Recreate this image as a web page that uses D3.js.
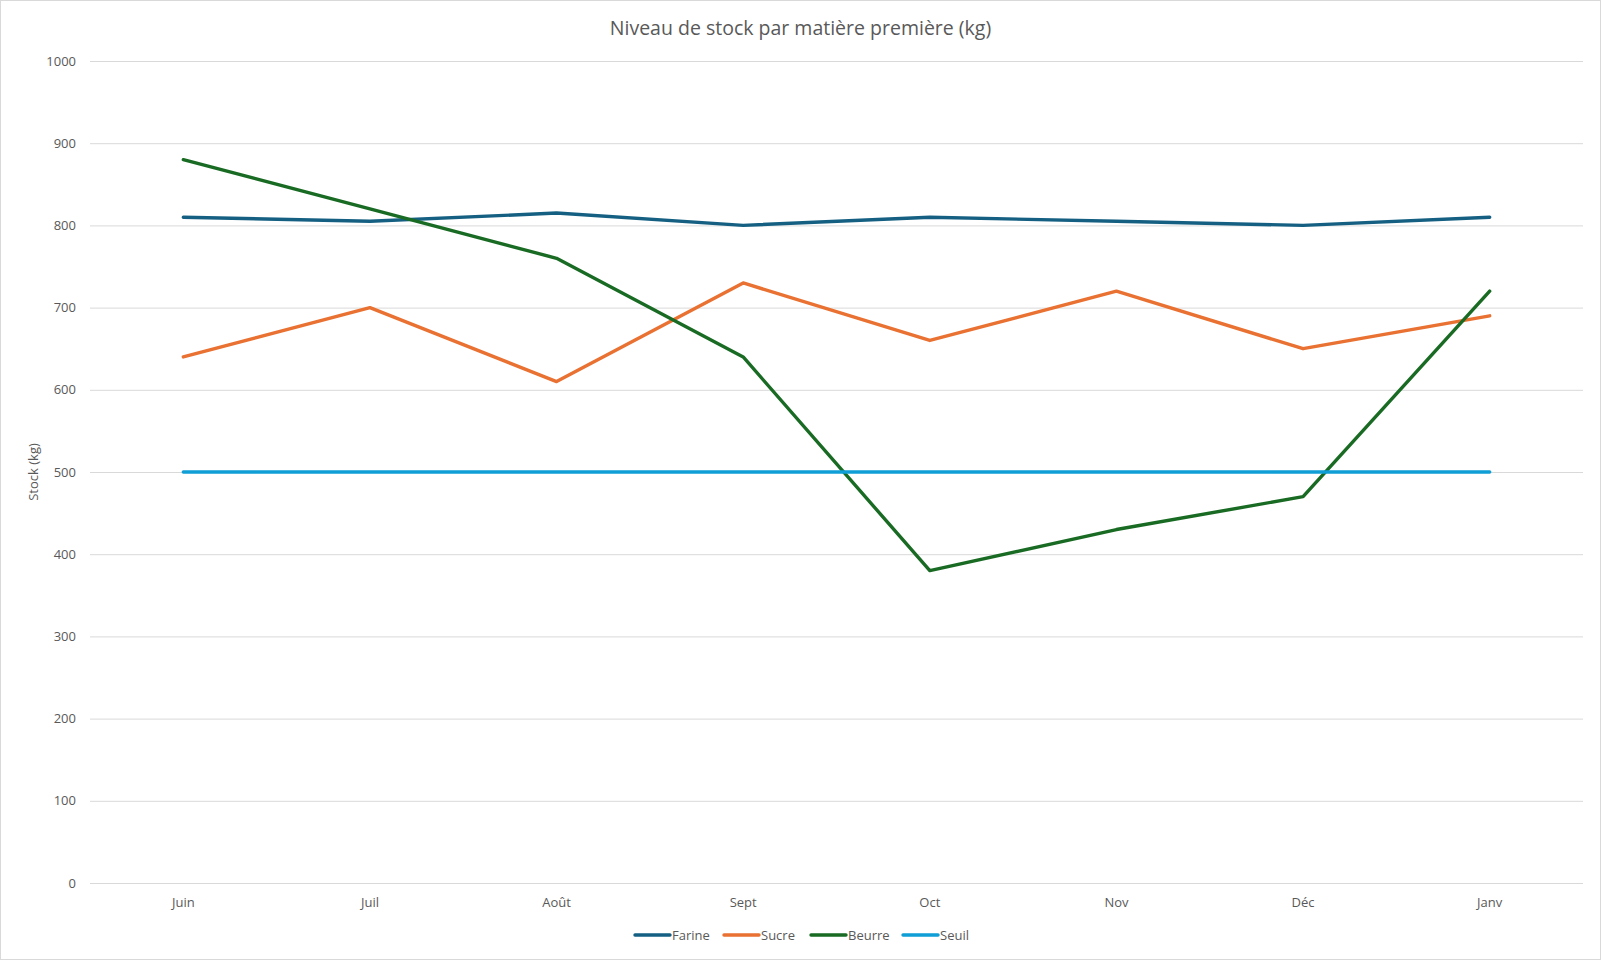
<!DOCTYPE html>
<html>
<head>
<meta charset="utf-8">
<script src="https://cdn.jsdelivr.net/npm/d3@7"></script>
<style>
	body { margin: 0; background: #fff; }
	text { font-family: "Open Sans", "Noto Sans", sans-serif; fill: #595959; }
</style>
</head>
<body>
<div id="chart"></div>
<script>
// Chart data
var months = ["Juin", "Juil", "Août", "Sept", "Oct", "Nov", "Déc", "Janv"];
var farine = [810, 805, 815, 800, 810, 805, 800, 810];
var sucre  = [640, 700, 610, 730, 660, 720, 650, 690];
var beurre = [880, 820, 760, 640, 380, 430, 470, 720];
var seuil  = [500, 500, 500, 500, 500, 500, 500, 500];
var yTicks = [0, 100, 200, 300, 400, 500, 600, 700, 800, 900, 1000];

var series = [
	{name: "Farine", values: farine, color: "#156082"},
	{name: "Sucre",  values: sucre,  color: "#E97132"},
	{name: "Beurre", values: beurre, color: "#196B24"},
	{name: "Seuil",  values: seuil,  color: "#0F9ED5"}
];

var W = 1601, H = 960;
var margin = {top: 61, right: 18, bottom: 77, left: 90};
var width = W - margin.left - margin.right,
	height = H - margin.top - margin.bottom;

var svg = d3.select("#chart").append("svg")
	.attr("width", W)
	.attr("height", H);

//Outer frame
svg.append("rect")
	.attr("x", 0.5).attr("y", 0.5)
	.attr("width", W - 1).attr("height", H - 1)
	.style("fill", "#fff")
	.style("stroke", "#d9d9d9");

//Title
svg.append("text")
	.attr("x", W/2)
	.attr("y", 28)
	.attr("dy", "0.35em")
	.attr("text-anchor", "middle")
	.style("font-size", "19.5px")
	.text("Niveau de stock par matière première (kg)");

var g = svg.append("g")
	.attr("transform", "translate(" + margin.left + "," + margin.top + ")");

var x = d3.scaleBand().domain(months).range([0, width]);
var y = d3.scaleLinear().domain([0, 1000]).range([height, 0]);

//Gridlines + y labels
var yAxis = g.append("g")
	.call(d3.axisLeft(y).tickValues(yTicks).tickSize(-width).tickPadding(14).tickFormat(d3.format("d")));
yAxis.select(".domain").remove();
yAxis.selectAll("line").style("stroke", "#d9d9d9");
yAxis.selectAll("text").style("font-size", "13px").style("fill", "#595959")
	.style("font-family", "'Open Sans', sans-serif");

//X labels
var xAxis = g.append("g")
	.attr("transform", "translate(0," + height + ")")
	.call(d3.axisBottom(x).tickSize(0).tickPadding(15));
xAxis.select(".domain").remove();
xAxis.selectAll("text").style("font-size", "13px").style("fill", "#595959")
	.style("font-family", "'Open Sans', sans-serif");

//Y axis title
svg.append("text")
	.attr("transform", "translate(33," + (margin.top + height/2) + ") rotate(-90)")
	.attr("text-anchor", "middle")
	.attr("dy", "0.35em")
	.style("font-size", "13px")
	.text("Stock (kg)");

//Lines
var line = d3.line()
	.x(function(d, i) { return x(months[i]) + x.bandwidth()/2; })
	.y(function(d) { return y(d); });

g.selectAll(".series-line")
	.data(series)
	.enter().append("path")
	.attr("class", "series-line")
	.attr("d", function(d) { return line(d.values); })
	.style("fill", "none")
	.style("stroke", function(d) { return d.color; })
	.style("stroke-width", 3.4)
	.style("stroke-linecap", "round")
	.style("stroke-linejoin", "round");

//Legend
var legendX = [635, 724, 811, 903];
var legend = svg.selectAll(".legend-item")
	.data(series)
	.enter().append("g")
	.attr("class", "legend-item")
	.attr("transform", function(d, i) { return "translate(" + legendX[i] + ",935)"; });

legend.append("line")
	.attr("x1", 0).attr("x2", 35)
	.style("stroke", function(d) { return d.color; })
	.style("stroke-width", 3.4)
	.style("stroke-linecap", "round");

legend.append("text")
	.attr("x", 37)
	.attr("dy", "0.35em")
	.style("font-size", "13px")
	.text(function(d) { return d.name; });
</script>
</body>
</html>
